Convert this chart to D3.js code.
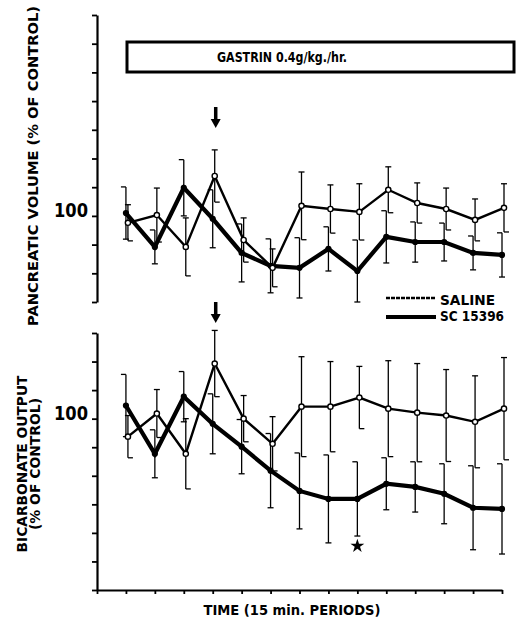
<!DOCTYPE html>
<html>
<head>
<meta charset="utf-8">
<script src="https://cdn.jsdelivr.net/npm/d3@7"></script>
<style>
  body { margin: 0; background: #fff; }
  text { font-family: "DejaVu Sans", sans-serif; font-weight: bold; fill: #000; }
</style>
</head>
<body>
<div id="chart"></div>
<script>
// 15 min periods after control
const periods = [1, 2, 3, 4, 5, 6, 7, 8, 9, 10, 11, 12, 13, 14];

// pancreatic volume, % of control
const volSaline    = [97.6, 100.3, 89.2, 113.9, 91.6, 81.9, 103.5, 102.4, 101.4, 109.1, 104.5, 102.4, 98.6, 102.8];
const volSalineErr = [6.3, 9.4, 10.1, 9.1, 7.7, 6.6, 11.8, 8.4, 9.8, 8.0, 7.0, 7.3, 7.3, 8.4];
const volSC        = [101.0, 89.2, 109.8, 99.0, 87.1, 82.6, 81.9, 88.5, 80.8, 92.7, 90.9, 90.9, 87.1, 86.4];
const volSCErr     = [9.1, 5.9, 9.8, 10.1, 10.1, 9.4, 10.5, 7.7, 10.8, 9.1, 7.0, 6.6, 5.9, 7.7];

// bicarbonate output, % of control
const bicSaline    = [93.7, 101.8, 87.7, 119.3, 100.0, 91.2, 104.2, 104.2, 107.4, 103.5, 102.1, 101.1, 98.9, 103.5];
const bicSalineErr = [7.4, 8.4, 12.3, 11.6, 8.1, 9.5, 17.5, 15.8, 10.9, 16.8, 17.2, 16.1, 16.1, 17.9];
const bicSC        = [104.6, 87.7, 107.7, 98.2, 90.2, 81.8, 74.7, 71.9, 71.9, 77.2, 76.1, 73.7, 68.8, 68.4];
const bicSCErr     = [10.9, 8.4, 8.8, 10.5, 9.5, 13.0, 13.3, 15.4, 13.0, 9.1, 8.8, 10.5, 14.7, 15.8];

const volTicks = [70, 80, 90, 100, 110, 120, 130, 140, 150, 160, 170];
const bicTicks = [40, 50, 60, 70, 80, 90, 100, 110, 120, 130];
const xTicks = [0, 1, 2, 3, 4, 5, 6, 7, 8, 9, 10, 11, 12, 13, 14];

const gastrinPeriod = 4;   // arrows
const starPeriod = 9;      // significant point

const width = 522, height = 618;

const svg = d3.select("#chart")
  .append("svg")
  .attr("width", width)
  .attr("height", height);

const x = d3.scaleLinear().domain([0, 14]).range([97, 502]);
const yVol = d3.scaleLinear().domain([70, 170]).range([302, 15]);
const yBic = d3.scaleLinear().domain([40, 130]).range([590, 333]);

const salineShift = 2;

// y axes
function drawYAxis(y, ticks) {
  const g = svg.append("g")
    .attr("transform", "translate(" + x(0) + ",0)")
    .call(d3.axisLeft(y).tickValues(ticks).tickSize(5).tickSizeOuter(0).tickFormat(""));
  g.select(".domain").attr("stroke-width", 2.2);
  g.selectAll(".tick line").attr("stroke-width", 1.8);
  svg.append("text")
    .attr("x", 88)
    .attr("y", y(100) + 1)
    .attr("text-anchor", "end")
    .attr("font-size", "19px")
    .attr("textLength", 34)
    .attr("lengthAdjust", "spacingAndGlyphs")
    .text("100");
}
drawYAxis(yVol, volTicks);
drawYAxis(yBic, bicTicks);

// x axis
const gx = svg.append("g")
  .attr("transform", "translate(0," + yBic(40) + ")")
  .call(d3.axisBottom(x).tickValues(xTicks).tickSize(4).tickSizeOuter(0).tickFormat(""));
gx.select(".domain").attr("stroke-width", 2.2);
gx.selectAll(".tick line").attr("stroke-width", 1.8);

svg.append("text")
  .attr("x", 292)
  .attr("y", 615)
  .attr("text-anchor", "middle")
  .attr("font-size", "14px")
  .attr("textLength", 177)
  .attr("lengthAdjust", "spacingAndGlyphs")
  .text("TIME (15 min. PERIODS)");

// y labels
svg.append("text")
  .attr("transform", "translate(38,166) rotate(-90)")
  .attr("text-anchor", "middle")
  .attr("font-size", "14px")
  .attr("textLength", 320)
  .attr("lengthAdjust", "spacingAndGlyphs")
  .text("PANCREATIC VOLUME (% OF CONTROL)");

svg.append("text")
  .attr("transform", "translate(27,464) rotate(-90)")
  .attr("text-anchor", "middle")
  .attr("font-size", "14px")
  .attr("textLength", 177)
  .attr("lengthAdjust", "spacingAndGlyphs")
  .text("BICARBONATE OUTPUT");

svg.append("text")
  .attr("transform", "translate(40,464) rotate(-90)")
  .attr("text-anchor", "middle")
  .attr("font-size", "14px")
  .attr("textLength", 132)
  .attr("lengthAdjust", "spacingAndGlyphs")
  .text("(% OF CONTROL)");

// gastrin box
svg.append("rect")
  .attr("x", 127)
  .attr("y", 42)
  .attr("width", 387)
  .attr("height", 30)
  .attr("fill", "white")
  .attr("stroke", "black")
  .attr("stroke-width", 3);

svg.append("text")
  .attr("x", 282)
  .attr("y", 62)
  .attr("text-anchor", "middle")
  .attr("font-size", "14px")
  .attr("textLength", 130)
  .attr("lengthAdjust", "spacingAndGlyphs")
  .text("GASTRIN 0.4g/kg./hr.");

// arrows at start of gastrin
function arrow(top) {
  const ax = x(gastrinPeriod) + 3;
  svg.append("line")
    .attr("x1", ax).attr("x2", ax)
    .attr("y1", top).attr("y2", top + 14)
    .attr("stroke", "black")
    .attr("stroke-width", 3.5);
  svg.append("path")
    .attr("d", `M${ax - 5},${top + 12} L${ax + 5},${top + 12} L${ax},${top + 21} Z`)
    .attr("fill", "black");
}
arrow(107);
arrow(302);

// series drawing
function drawSeries(y, vals, errs, saline) {
  const data = periods.map((p, i) => ({ p: p, v: vals[i], e: errs[i] }));
  const sx = d => x(d.p) + (saline ? salineShift : 0);

  // error bars
  const bars = svg.append("g")
    .attr("stroke", "black")
    .attr("stroke-width", 1.3);
  data.forEach(d => {
    const cx = sx(d), top = y(d.v + d.e), bot = y(d.v - d.e);
    bars.append("line").attr("x1", cx).attr("x2", cx).attr("y1", top).attr("y2", bot);
    if (saline) {
      bars.append("line").attr("x1", cx - 3).attr("x2", cx + 3).attr("y1", top).attr("y2", top);
      bars.append("line").attr("x1", cx).attr("x2", cx + 5).attr("y1", bot).attr("y2", bot);
    } else {
      bars.append("line").attr("x1", cx - 5).attr("x2", cx).attr("y1", top).attr("y2", top);
      bars.append("line").attr("x1", cx - 3).attr("x2", cx + 3).attr("y1", bot).attr("y2", bot);
    }
  });

  const line = d3.line()
    .x(sx)
    .y(d => y(d.v));

  svg.append("path")
    .datum(data)
    .attr("d", line)
    .attr("fill", "none")
    .attr("stroke", "black")
    .attr("stroke-width", saline ? 2.4 : 4.2)
    .attr("stroke-linejoin", "miter");

  svg.selectAll(null)
    .data(data)
    .enter()
    .append("circle")
    .attr("cx", sx)
    .attr("cy", d => y(d.v))
    .attr("r", saline ? 2.6 : 2.4)
    .attr("fill", saline ? "white" : "black")
    .attr("stroke", "black")
    .attr("stroke-width", 1.4);
}

drawSeries(yVol, volSC, volSCErr, false);
drawSeries(yVol, volSaline, volSalineErr, true);
drawSeries(yBic, bicSC, bicSCErr, false);
drawSeries(yBic, bicSaline, bicSalineErr, true);

// star
svg.append("path")
  .attr("d", d3.symbol().type(d3.symbolStar).size(60)())
  .attr("transform", `translate(${x(starPeriod)},546)`)
  .attr("fill", "black");

// legend
svg.append("line")
  .attr("x1", 386).attr("x2", 436)
  .attr("y1", 298).attr("y2", 298)
  .attr("stroke", "black")
  .attr("stroke-width", 2.4)
  .attr("stroke-dasharray", "4,1");
svg.append("text")
  .attr("x", 440).attr("y", 305)
  .attr("font-size", "14px")
  .attr("textLength", 55)
  .attr("lengthAdjust", "spacingAndGlyphs")
  .text("SALINE");

svg.append("line")
  .attr("x1", 386).attr("x2", 436)
  .attr("y1", 317).attr("y2", 317)
  .attr("stroke", "black")
  .attr("stroke-width", 4.2);
svg.append("text")
  .attr("x", 440).attr("y", 321)
  .attr("font-size", "14px")
  .attr("textLength", 64)
  .attr("lengthAdjust", "spacingAndGlyphs")
  .text("SC 15396");
</script>
</body>
</html>
